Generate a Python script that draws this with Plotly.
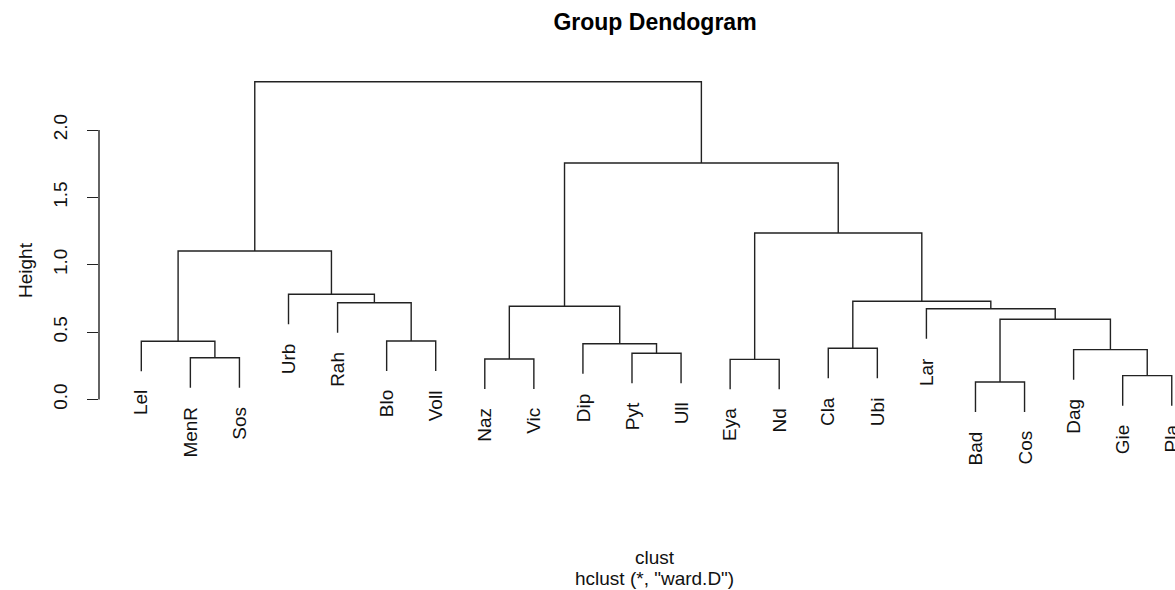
import plotly.graph_objects as go

# leaf order as drawn, left to right
leaves = ["Lel", "MenR", "Sos", "Urb", "Rah", "Blo", "Voll", "Naz", "Vic", "Dip", "Pyt",
          "Ull", "Eya", "Nd", "Cla", "Ubi", "Lar", "Bad", "Cos", "Dag", "Gie", "Pla"]

# merge table in R style: negative = leaf (1-based), positive = earlier merge step
merge_a = [-18, -21, -13, -8, -2, -11, -20, -15, -10, -1, -6, 1, -17, 4, -5, 8, -4, 10, 3, 14, 18]
merge_b = [-19, -22, -14, -9, -3, -12, 2, -16, 6, 5, -7, 7, 12, 9, 11, 13, 15, 17, 16, 19, 20]
merge_h = [0.130, 0.177, 0.298, 0.301, 0.310, 0.343, 0.370, 0.380, 0.414, 0.432, 0.434,
           0.595, 0.674, 0.692, 0.718, 0.729, 0.781, 1.102, 1.236, 1.755, 2.358]

y_ticks = [0.0, 0.5, 1.0, 1.5, 2.0]

LINE = "#222222"
FONT = "Liberation Sans, Arial, sans-serif"

hang = 0.1 * (max(merge_h) - min(merge_h))

# build the dendrogram segments
node_x = {}
xs, ys = [], []
leaf_ends = {}
for i, (a, b, h) in enumerate(zip(merge_a, merge_b, merge_h)):
    pts = []
    for c in (a, b):
        if c < 0:
            cx = -c
            bottom = h - hang
            leaf_ends[-c] = bottom
        else:
            cx = node_x[c]
            bottom = merge_h[c - 1]
        pts.append((cx, bottom))
    (xa, ya), (xb, yb) = pts
    xs += [xa, xa, xb, xb, None]
    ys += [ya, h, h, yb, None]
    node_x[i + 1] = (xa + xb) / 2

fig = go.Figure()
fig.add_trace(go.Scatter(x=xs, y=ys, mode="lines",
                         line=dict(color=LINE, width=1.4),
                         hoverinfo="skip", showlegend=False))

# leaf labels hanging under each leaf
for idx, name in enumerate(leaves, start=1):
    fig.add_annotation(x=idx, y=leaf_ends[idx], text=name, textangle=-90,
                       showarrow=False, xanchor="center", yanchor="top",
                       yshift=-17, font=dict(family=FONT, size=19, color="#111"))

# R-style y axis line spanning only the tick range
fig.add_shape(type="line", xref="paper", x0=0, x1=0, y0=y_ticks[0], y1=y_ticks[-1],
              line=dict(color=LINE, width=1.4))

fig.add_annotation(xref="paper", yref="paper", x=0, y=0.5, xshift=-74,
                   text="Height", textangle=-90, showarrow=False,
                   xanchor="center", yanchor="middle",
                   font=dict(family=FONT, size=19, color="#111"))
fig.add_annotation(xref="paper", yref="paper", x=0.5167, y=-0.2175,
                   text="clust", showarrow=False, xanchor="center", yanchor="middle",
                   font=dict(family=FONT, size=19, color="#111"))
fig.add_annotation(xref="paper", yref="paper", x=0.5167, y=-0.27,
                   text='hclust (*, "ward.D")', showarrow=False,
                   xanchor="center", yanchor="middle",
                   font=dict(family=FONT, size=19, color="#111"))

fig.update_layout(
    width=1175, height=590,
    margin=dict(l=99, r=0, t=70, b=120),
    paper_bgcolor="white", plot_bgcolor="white",
    title=dict(text="<b>Group Dendogram</b>", x=655 / 1175, xanchor="center",
               y=1 - 22 / 590, yanchor="middle",
               font=dict(family=FONT, size=23, color="black")),
    xaxis=dict(range=[0.138, 22.066], showgrid=False, zeroline=False,
               showticklabels=False, ticks="", showline=False),
    yaxis=dict(range=[-0.5232, 2.4453], showgrid=False, zeroline=False,
               showline=False, tickvals=y_ticks,
               ticktext=[f"{v:.1f}" for v in y_ticks],
               ticks="outside", ticklen=11, tickcolor=LINE, tickwidth=1.4,
               tickangle=-90, ticklabelstandoff=12,
               tickfont=dict(family=FONT, size=19, color="#111")),
)

# drop the page's default body margin so the figure sits at the window corner
fig.write_html("out.html", config={"displayModeBar": False},
               post_script="document.body.style.margin='0';")
